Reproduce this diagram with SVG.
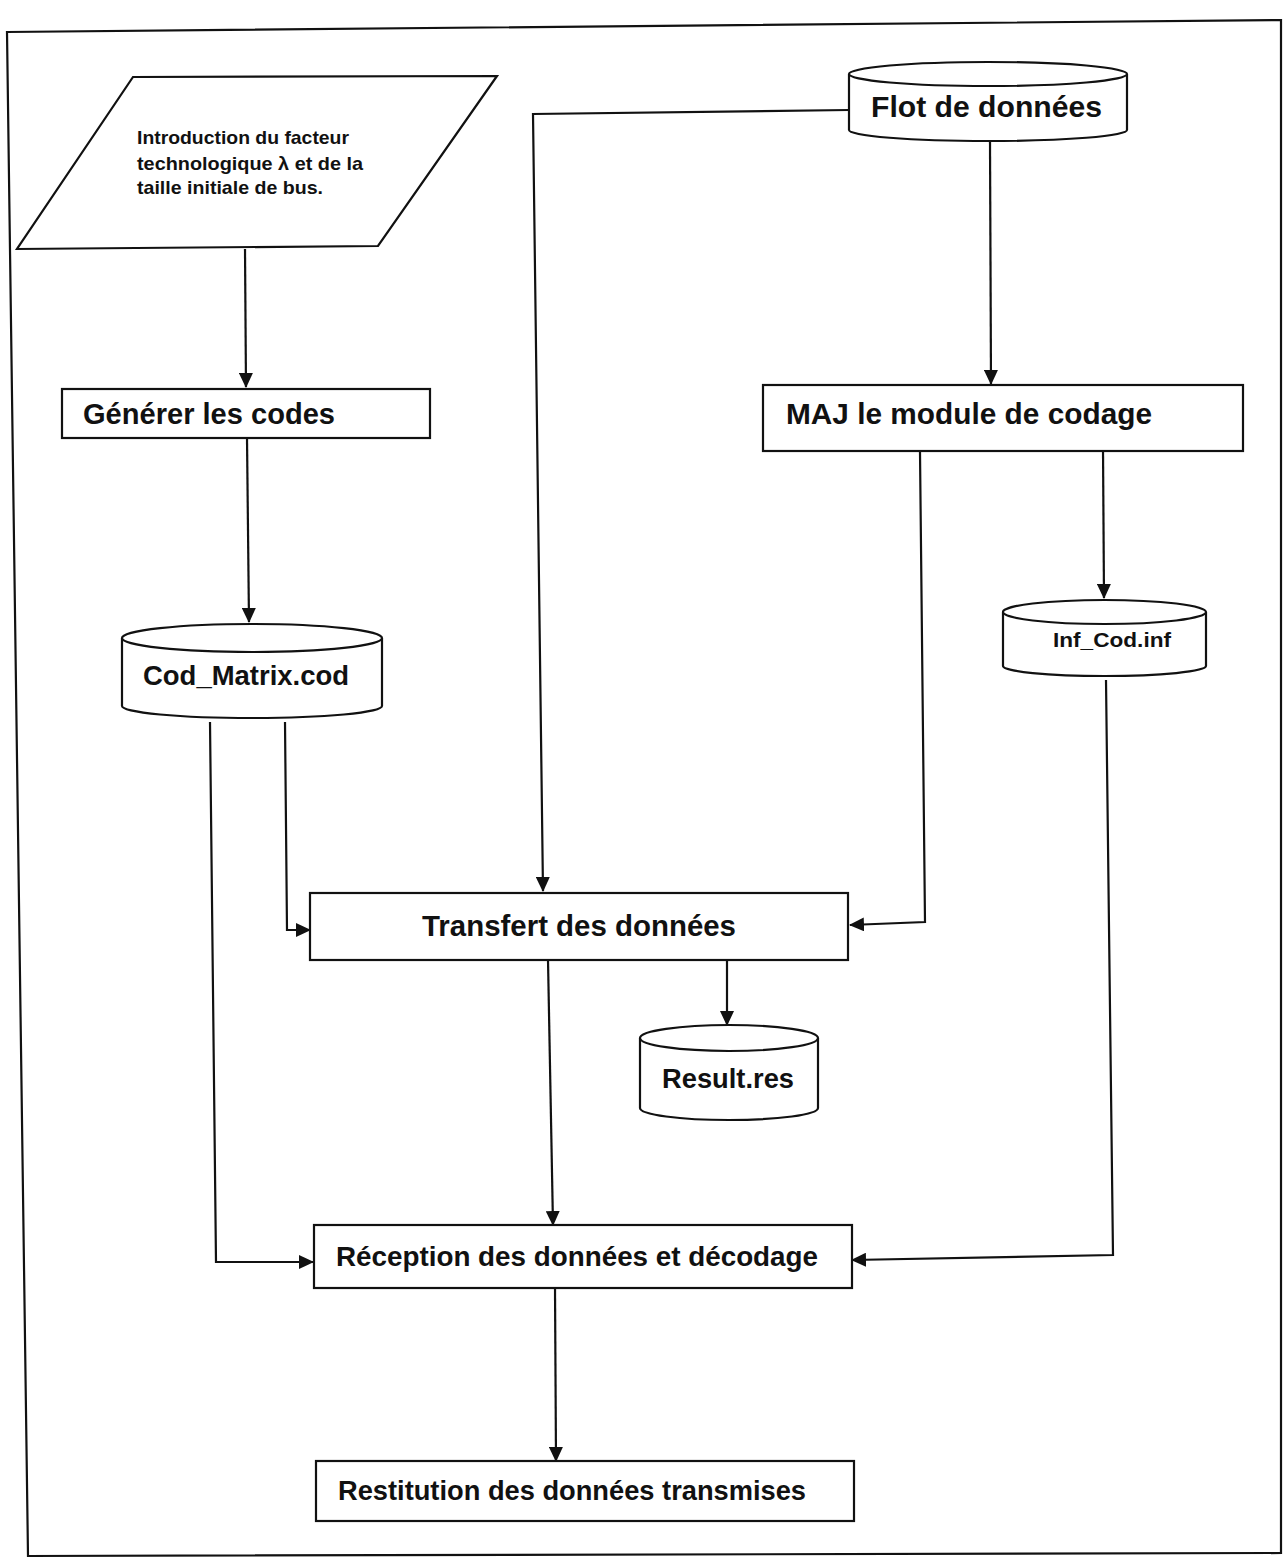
<svg xmlns="http://www.w3.org/2000/svg" width="1283" height="1559" viewBox="0 0 1283 1559">
<style>
  .shape{fill:#fff;stroke:#111;stroke-width:2.2}
  .conn{fill:none;stroke:#111;stroke-width:2.2}
  .lbl{font-family:"Liberation Sans",Arial,sans-serif;font-weight:bold;fill:#111}
</style>
<defs>
  <marker id="arr" markerUnits="userSpaceOnUse" markerWidth="16" markerHeight="14" refX="14" refY="7" orient="auto">
    <path d="M0,0 L15,7 L0,14 Z" fill="#111"/>
  </marker>
</defs>
<rect width="1283" height="1559" fill="#fff"/>
<polygon points="7,32 1281,20 1281,1553 28,1556" fill="none" stroke="#111" stroke-width="2.2"/>

<g id="connectors">
  <path class="conn" d="M245,249 L246,387" marker-end="url(#arr)"/>
  <path class="conn" d="M990,142 L991,384" marker-end="url(#arr)"/>
  <path class="conn" d="M849,110 L533,114 L543,891" marker-end="url(#arr)"/>
  <path class="conn" d="M247,438 L249,622" marker-end="url(#arr)"/>
  <path class="conn" d="M920,452 L925,922 L850,925" marker-end="url(#arr)"/>
  <path class="conn" d="M1103,448 L1104,598" marker-end="url(#arr)"/>
  <path class="conn" d="M285,722 L287,930 L310,930" marker-end="url(#arr)"/>
  <path class="conn" d="M210,722 L216,1262 L313,1262" marker-end="url(#arr)"/>
  <path class="conn" d="M1106,680 L1113,1255 L852,1260" marker-end="url(#arr)"/>
  <path class="conn" d="M548,960 L553,1225" marker-end="url(#arr)"/>
  <path class="conn" d="M727,960 L727,1025" marker-end="url(#arr)"/>
  <path class="conn" d="M555,1288 L556,1461" marker-end="url(#arr)"/>
</g>

<g id="n-input">
  <polygon class="shape" points="133,77 497,76 378,246 17,249"/>
  <text class="lbl" font-size="18.5" x="137" y="144" textLength="212" lengthAdjust="spacingAndGlyphs">Introduction du facteur</text>
  <text class="lbl" font-size="18.5" x="137" y="170" textLength="226" lengthAdjust="spacingAndGlyphs">technologique λ et de la</text>
  <text class="lbl" font-size="18.5" x="137" y="194" textLength="186" lengthAdjust="spacingAndGlyphs">taille initiale de bus.</text>
</g>

<g id="n-flot">
  <path class="shape" d="M849,74 L849,130 A139,11 0 0 0 1127,130 L1127,74"/>
  <ellipse class="shape" cx="988" cy="74" rx="139" ry="12"/>
  <text class="lbl" font-size="30" x="871" y="117" textLength="231" lengthAdjust="spacingAndGlyphs">Flot de données</text>
</g>

<g id="n-generer">
  <rect class="shape" x="62" y="389" width="368" height="49"/>
  <text class="lbl" font-size="29" x="83" y="424" textLength="252" lengthAdjust="spacingAndGlyphs">Générer les codes</text>
</g>

<g id="n-maj">
  <rect class="shape" x="763" y="385" width="480" height="66"/>
  <text class="lbl" font-size="29" x="786" y="424" textLength="366" lengthAdjust="spacingAndGlyphs">MAJ le module de codage</text>
</g>

<g id="n-codmatrix">
  <path class="shape" d="M122,638 L122,706 A130,12 0 0 0 382,706 L382,638"/>
  <ellipse class="shape" cx="252" cy="638" rx="130" ry="14"/>
  <text class="lbl" font-size="28" x="143" y="685" textLength="206" lengthAdjust="spacingAndGlyphs">Cod_Matrix.cod</text>
</g>

<g id="n-infcod">
  <path class="shape" d="M1003,612 L1003,666 A101.5,10 0 0 0 1206,666 L1206,612"/>
  <ellipse class="shape" cx="1104.5" cy="612" rx="101.5" ry="12"/>
  <text class="lbl" font-size="21" x="1053" y="647" textLength="118" lengthAdjust="spacingAndGlyphs">Inf_Cod.inf</text>
</g>

<g id="n-transfert">
  <rect class="shape" x="310" y="893" width="538" height="67"/>
  <text class="lbl" font-size="30" x="422" y="936" textLength="314" lengthAdjust="spacingAndGlyphs">Transfert des données</text>
</g>

<g id="n-result">
  <path class="shape" d="M640,1038 L640,1108 A89,12 0 0 0 818,1108 L818,1038"/>
  <ellipse class="shape" cx="729" cy="1038" rx="89" ry="13"/>
  <text class="lbl" font-size="27" x="662" y="1088" textLength="132" lengthAdjust="spacingAndGlyphs">Result.res</text>
</g>

<g id="n-reception">
  <rect class="shape" x="314" y="1225" width="538" height="63"/>
  <text class="lbl" font-size="28" x="336" y="1266" textLength="482" lengthAdjust="spacingAndGlyphs">Réception des données et décodage</text>
</g>

<g id="n-restitution">
  <rect class="shape" x="316" y="1461" width="538" height="60"/>
  <text class="lbl" font-size="27" x="338" y="1500" textLength="468" lengthAdjust="spacingAndGlyphs">Restitution des données transmises</text>
</g>
</svg>
